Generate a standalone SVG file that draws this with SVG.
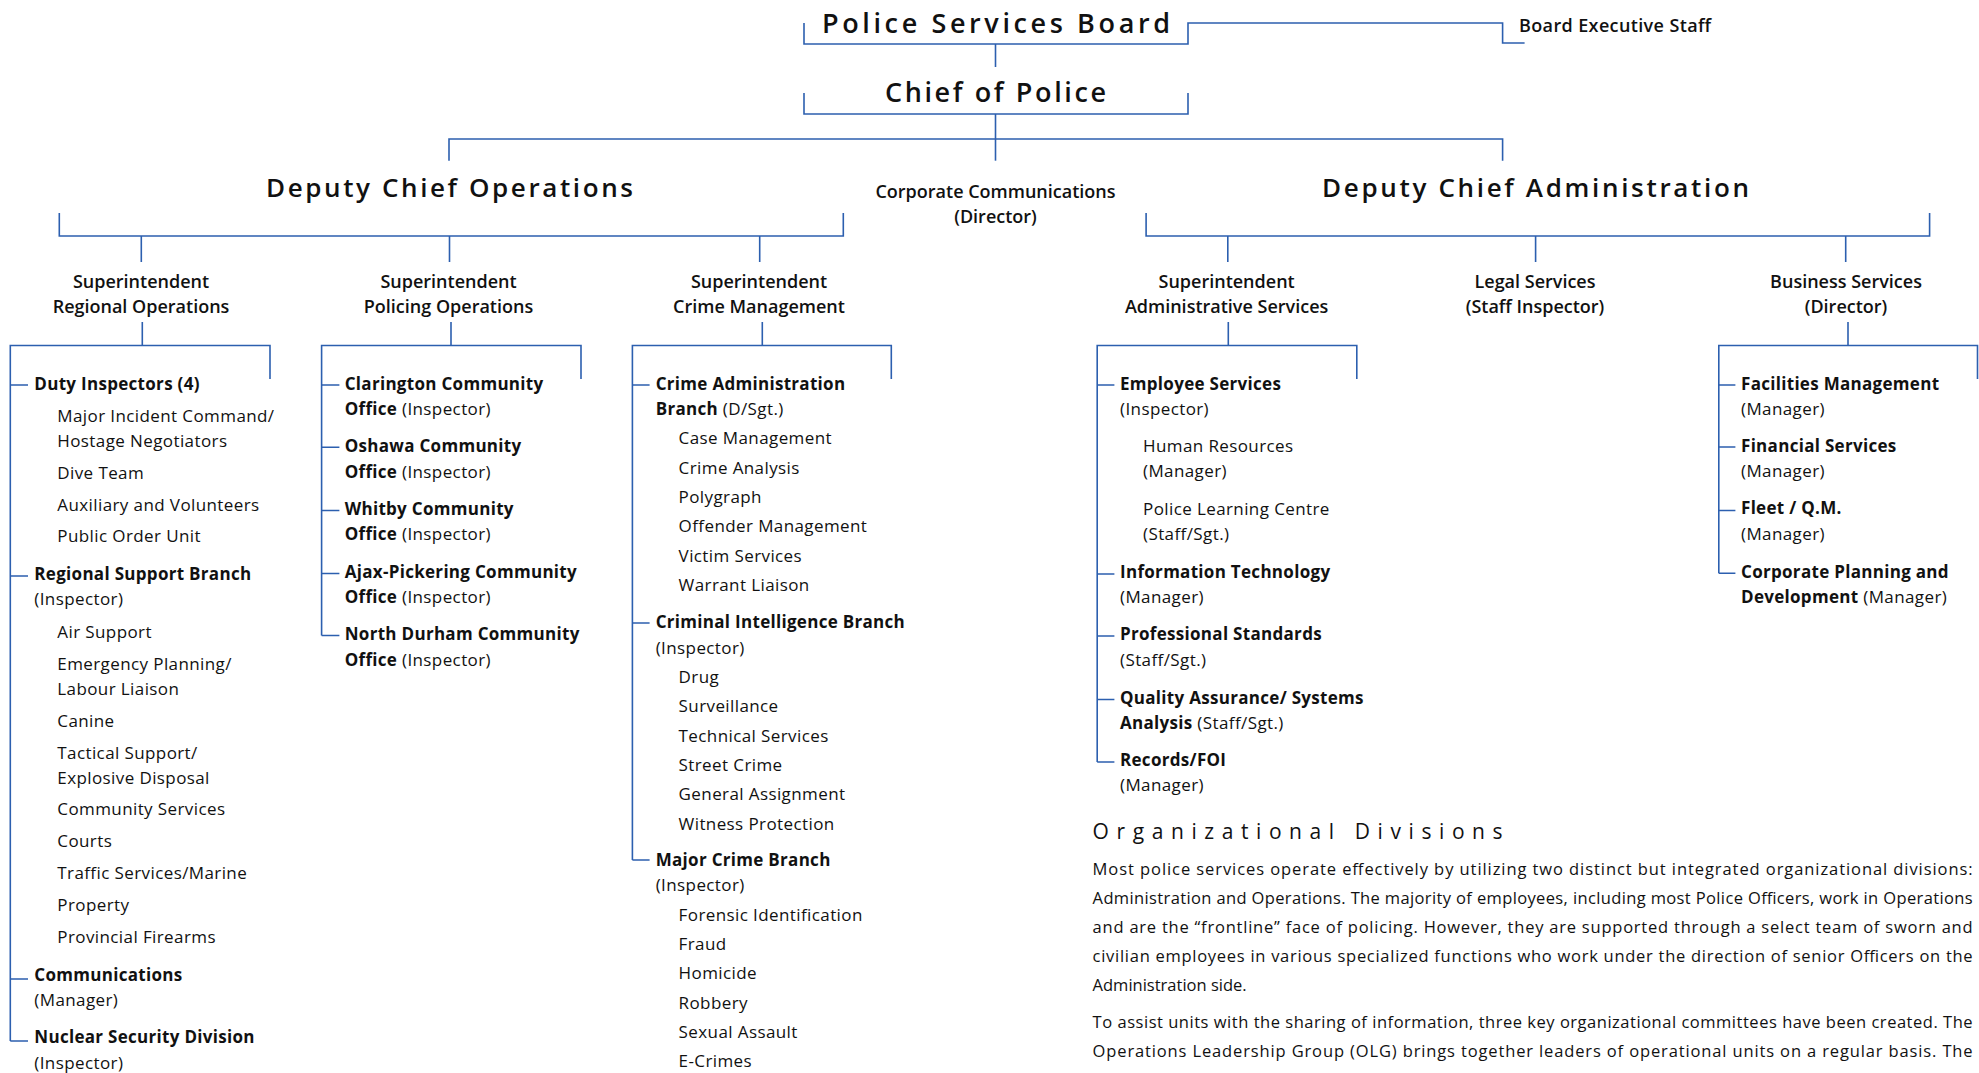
<svg xmlns="http://www.w3.org/2000/svg" width="1979" height="1073" viewBox="0 0 1979 1073">
<style>
.ln{fill:none;stroke:#2c5faf;stroke-width:1.6}
text{font-family:'Open Sans','Liberation Sans',sans-serif;fill:#111}
.t{font-size:27px;font-weight:600}
.dc{font-size:26px;font-weight:600}
.sh{font-size:18px;font-weight:600;text-anchor:middle}
.bes{font-size:18px;font-weight:600}
.b{font-size:17px;font-weight:700;letter-spacing:0.3px}
.r{font-size:17px;font-weight:400;letter-spacing:0.4px}
.rr{font-weight:400;letter-spacing:0.4px}
.od{font-size:21px;font-weight:400}
.p{font-size:16.5px;font-weight:400}
</style>
<rect width="1979" height="1073" fill="#fff"/>
<g id="connectors">
<path class="ln" d="M804,23 V44 H1188 V23 H1502.6 V43 H1524.6"/>
<path class="ln" d="M995.5,44 V67"/>
<path class="ln" d="M804,93 V114 H1188 V93"/>
<path class="ln" d="M995.5,114 V160.7"/>
<path class="ln" d="M449,160.7 V139 H1502.6 V160.7"/>
<path class="ln" d="M59.3,213 V236 H843.3 V213"/>
<path class="ln" d="M141.3,236 V262 M449.5,236 V262 M759.7,236 V262"/>
<path class="ln" d="M1146.1,213 V236 H1929.6 V213"/>
<path class="ln" d="M1227.8,236 V262 M1535.6,236 V262 M1845.7,236 V262"/>
<path class="ln" d="M142.3,322 V345.5 M10.3,1041 V345.5 H270 V379"/>
<path class="ln" d="M10.3,385 H28 M10.3,576 H28 M10.3,979 H28 M10.3,1041 H28"/>
<path class="ln" d="M451,322 V345.5 M321.6,635.5 V345.5 H581 V379"/>
<path class="ln" d="M321.6,385 H339.4 M321.6,447.3 H339.4 M321.6,510.5 H339.4 M321.6,573.5 H339.4 M321.6,635.5 H339.4"/>
<path class="ln" d="M762.3,322 V345.5 M632.4,860 V345.5 H891.3 V379"/>
<path class="ln" d="M632.4,385 H649.6 M632.4,623 H649.6 M632.4,860 H649.6"/>
<path class="ln" d="M1228.3,322 V345.5 M1097.2,762 V345.5 H1356.8 V379"/>
<path class="ln" d="M1097.2,385 H1114.4 M1097.2,574 H1114.4 M1097.2,636 H1114.4 M1097.2,699.5 H1114.4 M1097.2,762 H1114.4"/>
<path class="ln" d="M1848,322 V345.5 M1718.8,573.3 V345.5 H1977.5 V379"/>
<path class="ln" d="M1718.8,385 H1735.4 M1718.8,447 H1735.4 M1718.8,510.5 H1735.4 M1718.8,573.3 H1735.4"/>
</g>
<g id="psb"><text class="t" x="822" y="33" textLength="348" lengthAdjust="spacing">Police Services Board</text></g>
<g id="bes"><text class="bes" x="1519" y="32" textLength="192" lengthAdjust="spacing">Board Executive Staff</text></g>
<g id="chief"><text class="t" x="885" y="102" textLength="221" lengthAdjust="spacing">Chief of Police</text></g>
<g id="dco"><text class="dc" x="266" y="197" textLength="367" lengthAdjust="spacing">Deputy Chief Operations</text></g>
<g id="dca"><text class="dc" x="1322" y="197" textLength="427" lengthAdjust="spacing">Deputy Chief Administration</text></g>
<g id="corpcomm"><text class="sh" x="995.5" y="197.5">Corporate Communications</text><text class="sh" x="995.5" y="222.5">(Director)</text></g>
<g id="sup-regional"><text class="sh" x="141" y="288">Superintendent</text><text class="sh" x="141" y="313">Regional Operations</text></g>
<g id="sup-policing"><text class="sh" x="448.5" y="288">Superintendent</text><text class="sh" x="448.5" y="313">Policing Operations</text></g>
<g id="sup-crime"><text class="sh" x="759" y="288">Superintendent</text><text class="sh" x="759" y="313">Crime Management</text></g>
<g id="sup-admin"><text class="sh" x="1226.6" y="288">Superintendent</text><text class="sh" x="1226.6" y="313">Administrative Services</text></g>
<g id="legal"><text class="sh" x="1535" y="288">Legal Services</text><text class="sh" x="1535" y="313">(Staff Inspector)</text></g>
<g id="business"><text class="sh" x="1846" y="288">Business Services</text><text class="sh" x="1846" y="313">(Director)</text></g>

<g id="col-regional">
<text class="b" x="34.3" y="389.5">Duty Inspectors (4)</text>
<text class="r" x="57.3" y="421.5">Major Incident Command/</text>
<text class="r" x="57.3" y="446.8">Hostage Negotiators</text>
<text class="r" x="57.3" y="478.6">Dive Team</text>
<text class="r" x="57.3" y="510.6">Auxiliary and Volunteers</text>
<text class="r" x="57.3" y="542.4">Public Order Unit</text>
<text class="b" x="34.3" y="579.8">Regional Support Branch</text>
<text class="r" x="34.3" y="605.1">(Inspector)</text>
<text class="r" x="57.3" y="637.5">Air Support</text>
<text class="r" x="57.3" y="669.8">Emergency Planning/</text>
<text class="r" x="57.3" y="694.9">Labour Liaison</text>
<text class="r" x="57.3" y="726.7">Canine</text>
<text class="r" x="57.3" y="758.5">Tactical Support/</text>
<text class="r" x="57.3" y="783.5">Explosive Disposal</text>
<text class="r" x="57.3" y="815.4">Community Services</text>
<text class="r" x="57.3" y="847.2">Courts</text>
<text class="r" x="57.3" y="879">Traffic Services/Marine</text>
<text class="r" x="57.3" y="910.8">Property</text>
<text class="r" x="57.3" y="943.4">Provincial Firearms</text>
<text class="b" x="34.3" y="981">Communications</text>
<text class="r" x="34.3" y="1006.3">(Manager)</text>
<text class="b" x="34.3" y="1043.3">Nuclear Security Division</text>
<text class="r" x="34.3" y="1068.7">(Inspector)</text>
</g>

<g id="col-policing">
<text class="b" x="344.7" y="389.5">Clarington Community</text>
<text class="b" x="344.7" y="414.7">Office<tspan class="rr"> (Inspector)</tspan></text>
<text class="b" x="344.7" y="452">Oshawa Community</text>
<text class="b" x="344.7" y="477.5">Office<tspan class="rr"> (Inspector)</tspan></text>
<text class="b" x="344.7" y="515">Whitby Community</text>
<text class="b" x="344.7" y="540.2">Office<tspan class="rr"> (Inspector)</tspan></text>
<text class="b" x="344.7" y="578">Ajax-Pickering Community</text>
<text class="b" x="344.7" y="603">Office<tspan class="rr"> (Inspector)</tspan></text>
<text class="b" x="344.7" y="640.2">North Durham Community</text>
<text class="b" x="344.7" y="666.2">Office<tspan class="rr"> (Inspector)</tspan></text>
</g>

<g id="col-crime">
<text class="b" x="655.7" y="389.5">Crime Administration</text>
<text class="b" x="655.7" y="414.7">Branch<tspan class="rr"> (D/Sgt.)</tspan></text>
<text class="r" x="678.6" y="443.6">Case Management</text>
<text class="r" x="678.6" y="473.6">Crime Analysis</text>
<text class="r" x="678.6" y="502.9">Polygraph</text>
<text class="r" x="678.6" y="532">Offender Management</text>
<text class="r" x="678.6" y="561.6">Victim Services</text>
<text class="r" x="678.6" y="590.8">Warrant Liaison</text>
<text class="b" x="655.7" y="628">Criminal Intelligence Branch</text>
<text class="r" x="655.7" y="654">(Inspector)</text>
<text class="r" x="678.6" y="683.2">Drug</text>
<text class="r" x="678.6" y="712.3">Surveillance</text>
<text class="r" x="678.6" y="741.8">Technical Services</text>
<text class="r" x="678.6" y="770.5">Street Crime</text>
<text class="r" x="678.6" y="800.1">General Assignment</text>
<text class="r" x="678.6" y="829.6">Witness Protection</text>
<text class="b" x="655.7" y="866.4">Major Crime Branch</text>
<text class="r" x="655.7" y="891.3">(Inspector)</text>
<text class="r" x="678.6" y="921.2">Forensic Identification</text>
<text class="r" x="678.6" y="950.2">Fraud</text>
<text class="r" x="678.6" y="979.2">Homicide</text>
<text class="r" x="678.6" y="1009.1">Robbery</text>
<text class="r" x="678.6" y="1038.2">Sexual Assault</text>
<text class="r" x="678.6" y="1066.8">E-Crimes</text>
</g>

<g id="col-admin">
<text class="b" x="1120" y="389.5">Employee Services</text>
<text class="r" x="1120" y="414.5">(Inspector)</text>
<text class="r" x="1143" y="451.8">Human Resources</text>
<text class="r" x="1143" y="476.8">(Manager)</text>
<text class="r" x="1143" y="514.8">Police Learning Centre</text>
<text class="r" x="1143" y="539.8">(Staff/Sgt.)</text>
<text class="b" x="1120" y="578">Information Technology</text>
<text class="r" x="1120" y="603">(Manager)</text>
<text class="b" x="1120" y="640.3">Professional Standards</text>
<text class="r" x="1120" y="665.8">(Staff/Sgt.)</text>
<text class="b" x="1120" y="703.5">Quality Assurance/ Systems</text>
<text class="b" x="1120" y="728.5">Analysis<tspan class="rr"> (Staff/Sgt.)</tspan></text>
<text class="b" x="1120" y="766">Records/FOI</text>
<text class="r" x="1120" y="791">(Manager)</text>
</g>

<g id="col-business">
<text class="b" x="1741" y="389.5">Facilities Management</text>
<text class="r" x="1741" y="414.5">(Manager)</text>
<text class="b" x="1741" y="451.6">Financial Services</text>
<text class="r" x="1741" y="476.8">(Manager)</text>
<text class="b" x="1741" y="514.3">Fleet / Q.M.</text>
<text class="r" x="1741" y="539.8">(Manager)</text>
<text class="b" x="1741" y="577.5">Corporate Planning and</text>
<text class="b" x="1741" y="602.5">Development<tspan class="rr"> (Manager)</tspan></text>
</g>

<g id="org-divisions">
<text class="od" x="1092.6" y="839.3" textLength="410" lengthAdjust="spacing">Organizational Divisions</text>
<text class="p" x="1092.6" y="875" textLength="880" lengthAdjust="spacing">Most police services operate effectively by utilizing two distinct but integrated organizational divisions:</text>
<text class="p" x="1092.6" y="904" textLength="880" lengthAdjust="spacing">Administration and Operations. The majority of employees, including most Police Officers, work in Operations</text>
<text class="p" x="1092.6" y="933" textLength="880" lengthAdjust="spacing">and are the “frontline” face of policing. However, they are supported through a select team of sworn and</text>
<text class="p" x="1092.6" y="962" textLength="880" lengthAdjust="spacing">civilian employees in various specialized functions who work under the direction of senior Officers on the</text>
<text class="p" x="1092.6" y="991">Administration side.</text>
<text class="p" x="1092.6" y="1028" textLength="880" lengthAdjust="spacing">To assist units with the sharing of information, three key organizational committees have been created. The</text>
<text class="p" x="1092.6" y="1056.5" textLength="880" lengthAdjust="spacing">Operations Leadership Group (OLG) brings together leaders of operational units on a regular basis. The</text>
</g>
</svg>
